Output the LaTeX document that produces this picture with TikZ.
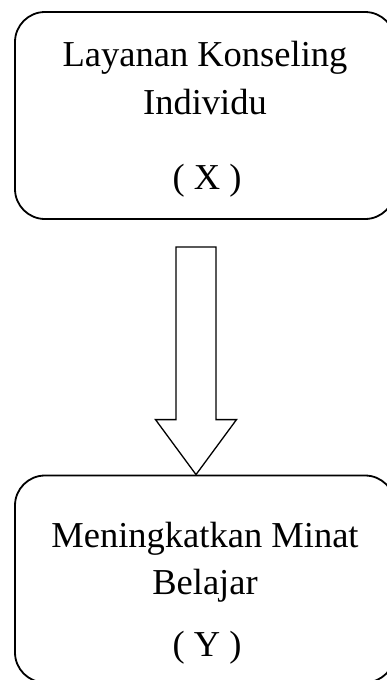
\documentclass[tikz,border=0pt]{standalone}
\usepackage{fontspec}
\setmainfont{Liberation Serif}
\usetikzlibrary{calc}
\begin{document}
\begin{tikzpicture}[x=1pt,y=-1pt,
  box/.style={draw,line width=1.8pt,rounded corners=30pt,
    minimum width=380pt,minimum height=207pt,inner sep=0pt},
  lbl/.style={anchor=base,inner sep=0pt,font=\fontsize{36.5}{44}\selectfont},
  blockarrow/.style={draw,line width=1.3pt,fill=white,line join=miter}]
\useasboundingbox (0,0) rectangle (387,680);
\clip (0,0) rectangle (387,680);

% the two stages
\node[box] (xbox) at (205,115.5) {};
\node[box] (ybox) at (205,579) {};

% labels of the first stage
\node[lbl] (x1) at (205,66) {Layanan Konseling};
\node[lbl] (x2) at (205,114) {Individu};
\node[lbl] (x3) at (207,189) {( X )};

% labels of the second stage
\node[lbl] (y1) at (205,547) {Meningkatkan Minat};
\node[lbl] (y2) at (205,594) {Belajar};
\node[lbl] (y3) at (207,656) {( Y )};

% hollow block arrow from the first stage down to the second
\coordinate (tip) at ($(ybox.north)+(-9,0)$);
\coordinate (tail) at ($(xbox.south)+(-9,27)$);
\draw[blockarrow]
  ($(tail)+(-20,0)$) -- ($(tail)+(20,0)$)
  -- ($(tip)+(20,-55)$) -- ($(tip)+(40.5,-55)$)
  -- (tip)
  -- ($(tip)+(-40.5,-55)$) -- ($(tip)+(-20,-55)$) -- cycle;
\end{tikzpicture}
\end{document}
